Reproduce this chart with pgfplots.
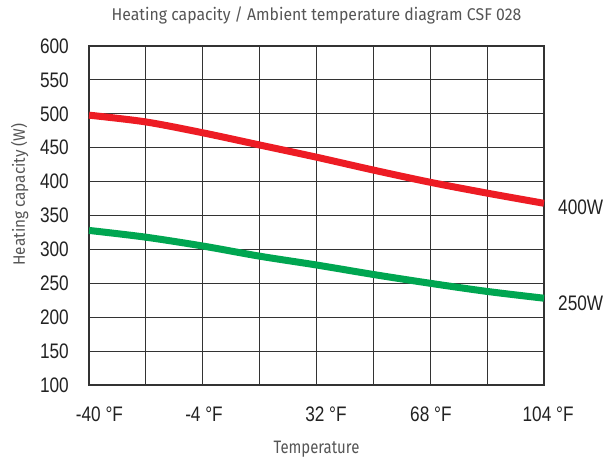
\documentclass[border=0pt]{standalone}
\usepackage{fontspec}
\setmainfont{Liberation Sans}[FakeStretch=0.82]
\newfontfamily\titlefont{Fira Sans}[FakeStretch=0.93]
\newfontfamily\labelfont{Fira Sans}[FakeStretch=0.83]
\usepackage{pgfplots}
\pgfplotsset{compat=1.18}
\definecolor{cred}{HTML}{ED1C24}
\definecolor{cgreen}{HTML}{00A651}
\definecolor{cgrid}{HTML}{333333}
\definecolor{ctext}{HTML}{555555}
\definecolor{ctick}{HTML}{222222}
\begin{document}
\begin{tikzpicture}
\path[use as bounding box] (-89bp,-74bp) rectangle (516bp,385bp);
\begin{axis}[
  at={(0,0)}, anchor=south west,
  scale only axis, width=455bp, height=339bp,
  xmin=-40, xmax=104, ymin=100, ymax=600,
  xtick={-40,-22,...,104},
  xticklabels={},
  ytick={100,150,...,600},
  /pgf/number format/assume math mode=true,
  major tick length=0pt,
  grid=major,
  major grid style={cgrid, line width=1.1bp},
  axis line style={cgrid, line width=1.1bp},
  yticklabel style={font=\fontsize{21bp}{23bp}\selectfont, text=ctick, anchor=east, inner sep=0pt, xshift=-20bp},
  clip=false,
]
\addplot[cred, line width=7bp, smooth] coordinates {
(-40,498) (-22,488) (-4,472) (14,454) (32,436) (50,417) (68,399) (86,383) (104,368)};
\addplot[cgreen, line width=7bp, smooth] coordinates {
(-40,328) (-22,318) (-4,305) (14,290) (32,277) (50,263) (68,250) (86,238) (104,228)};
\begin{scope}[every node/.style={font=\fontsize{21bp}{23bp}\selectfont, text=ctick, inner sep=0pt}]
\node[anchor=north, yshift=-22bp] at (axis cs:-36.7,100) {-40 °F};
\node[anchor=north, yshift=-22bp] at (axis cs:-3.6,100) {-4 °F};
\node[anchor=north, yshift=-22bp] at (axis cs:35.0,100) {32 °F};
\node[anchor=north, yshift=-22bp] at (axis cs:68.2,100) {68 °F};
\node[anchor=north, yshift=-22bp] at (axis cs:105.3,100) {104 °F};
\node[anchor=base west, xshift=14bp] at (axis cs:104,351.2) {400W};
\node[anchor=base west, xshift=14bp] at (axis cs:104,209.5) {250W};
\end{scope}
\node[anchor=base, font=\titlefont\fontsize{17bp}{19bp}\selectfont, text=ctext, inner sep=0pt]
  at ([yshift=25bp]rel axis cs:0.5,1) {Heating capacity / Ambient temperature diagram CSF 028};
\node[anchor=base, font=\labelfont\fontsize{18bp}{20bp}\selectfont, text=ctext, inner sep=0pt]
  at ([yshift=-68bp]rel axis cs:0.5,0) {Temperature};
\node[anchor=base, rotate=90, font=\titlefont\fontsize{16.5bp}{18bp}\selectfont, text=ctext, inner sep=0pt]
  at ([xshift=-64bp]rel axis cs:0,0.562) {Heating capacity (W)};
\end{axis}
\end{tikzpicture}
\end{document}
